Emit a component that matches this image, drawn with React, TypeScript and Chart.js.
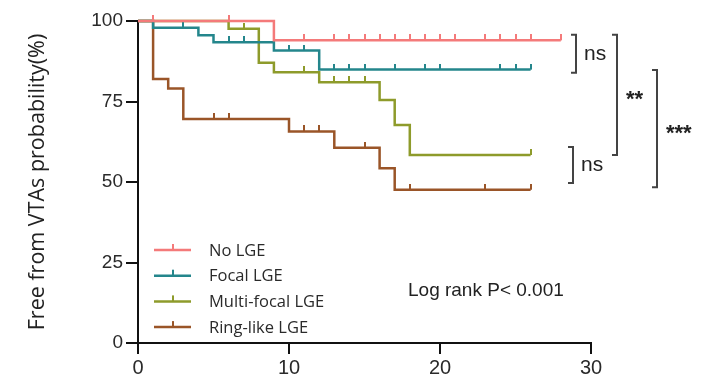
import React, { useEffect, useRef } from "react";
import { Chart, registerables } from "chart.js";

Chart.register(...registerables);

const seriesLabels = ["No LGE", "Focal LGE", "Multi-focal LGE", "Ring-like LGE"];
const seriesColors = ["#f47a7a", "#24868c", "#8e9b2b", "#9a5528"];

// Kaplan-Meier steps: time of each drop and survival (%) after it; censor marks
const noLgeEventTimes = [9];
const noLgeEventValues = [94.0];
const noLgeCensorTimes = [1, 6, 11, 13, 14, 15, 16, 17, 18, 19, 20, 21, 23, 24, 25, 26, 28];

const focalEventTimes = [1, 4, 5, 9, 12];
const focalEventValues = [97.9, 95.6, 93.4, 90.8, 84.9];
const focalCensorTimes = [3, 6, 7, 10, 11, 13, 14, 15, 17, 19, 20, 24, 25, 26];

const multiEventTimes = [6, 8, 9, 12, 16, 17, 18];
const multiEventValues = [97.6, 87.0, 84.1, 81.0, 75.5, 67.7, 58.4];
const multiCensorTimes = [7, 11, 13, 14, 15, 26];

const ringEventTimes = [1, 2, 3, 10, 13, 16, 17];
const ringEventValues = [82.0, 79.0, 69.6, 65.7, 60.6, 54.3, 47.6];
const ringCensorTimes = [5, 6, 11, 12, 15, 18, 23, 26];

const xTicks = [0, 10, 20, 30];
const yTicks = [0, 25, 50, 75, 100];

const yTitle = "Free from VTAs probability(%)";
const logRankText = "Log rank P< 0.001";

// significance brackets: span in y values and label
const bracketFrom = [95.7, 95.7, 84.8, 60.9];
const bracketTo = [83.9, 58.4, 48.4, 49.7];
const bracketLabels = ["ns", "**", "***", "ns"];
const bracketOffsets = [-15, 26, 66, -18];

type Pt = { x: number; y: number; c: boolean };

function kmPoints(evT: number[], evV: number[], cT: number[]): Pt[] {
  const items = [
    ...evT.map((t, i) => ({ x: t, v: evV[i], e: true })),
    ...cT.map((t) => ({ x: t, v: 0, e: false })),
  ].sort((a, b) => a.x - b.x || (a.e ? -1 : 1));
  const pts: Pt[] = [{ x: 0, y: 100, c: false }];
  let cur = 100;
  for (const it of items) {
    if (it.e) cur = it.v;
    pts.push({ x: it.x, y: cur, c: !it.e });
  }
  return pts;
}

function tickImage(color: string): HTMLCanvasElement {
  const c = document.createElement("canvas");
  c.width = 2;
  c.height = 12;
  const g = c.getContext("2d")!;
  g.fillStyle = color;
  g.fillRect(0, 0, 2, 6);
  return c;
}

const SANS = "'Liberation Sans', Arial, sans-serif";
const OPEN = "'Open Sans', 'Liberation Sans', sans-serif";

const annotPlugin = {
  id: "annot",
  afterDraw(chart: any) {
    const { ctx, chartArea, scales } = chart;
    const ys = scales.y;
    ctx.save();
    // legend
    const lx = chartArea.left + 16;
    const firstY = chartArea.bottom - 93;
    chart.data.datasets.forEach((ds: any, i: number) => {
      const y = firstY + i * 25.7;
      ctx.strokeStyle = ds.borderColor;
      ctx.lineWidth = 2.5;
      ctx.beginPath();
      ctx.moveTo(lx, y);
      ctx.lineTo(lx + 37, y);
      ctx.stroke();
      ctx.fillStyle = ds.borderColor;
      ctx.fillRect(lx + 18, y - 6, 2, 6);
      ctx.fillStyle = "#2a2a2a";
      ctx.font = `16.5px ${OPEN}`;
      ctx.textAlign = "left";
      ctx.textBaseline = "middle";
      ctx.fillText(ds.label, lx + 55, y + 1);
    });
    // log rank
    ctx.fillStyle = "#222";
    ctx.font = `19px ${SANS}`;
    ctx.textAlign = "left";
    ctx.textBaseline = "middle";
    ctx.fillText(logRankText, chartArea.left + 270, chartArea.bottom - 52);
    // brackets
    ctx.strokeStyle = "#444";
    ctx.lineWidth = 2;
    bracketLabels.forEach((lab, i) => {
      const x = chartArea.right + bracketOffsets[i];
      const y1 = ys.getPixelForValue(bracketFrom[i]);
      const y2 = ys.getPixelForValue(bracketTo[i]);
      ctx.beginPath();
      ctx.moveTo(x - 5, y1);
      ctx.lineTo(x, y1);
      ctx.lineTo(x, y2);
      ctx.lineTo(x - 5, y2);
      ctx.stroke();
      const my = (y1 + y2) / 2;
      ctx.fillStyle = "#222";
      ctx.textAlign = "left";
      if (lab === "ns") {
        ctx.font = `21px ${SANS}`;
        ctx.textBaseline = "middle";
        ctx.fillText(lab, x + 8, my);
      } else {
        ctx.font = `bold 22px ${SANS}`;
        ctx.textBaseline = "alphabetic";
        ctx.fillText(lab, x + 9, my + 11);
      }
    });
    ctx.restore();
  },
};

export default function App() {
  const ref = useRef<HTMLCanvasElement>(null);
  useEffect(() => {
    const series = [
      kmPoints(noLgeEventTimes, noLgeEventValues, noLgeCensorTimes),
      kmPoints(focalEventTimes, focalEventValues, focalCensorTimes),
      kmPoints(multiEventTimes, multiEventValues, multiCensorTimes),
      kmPoints(ringEventTimes, ringEventValues, ringCensorTimes),
    ];
    const datasets = series.map((data, i) => {
      const img = tickImage(seriesColors[i]);
      return {
        label: seriesLabels[i],
        data,
        borderColor: seriesColors[i],
        backgroundColor: seriesColors[i],
        borderWidth: 2.5,
        stepped: true,
        fill: false,
        clip: false,
        pointStyle: img,
        pointRadius: (c: any) => (c.raw && c.raw.c ? 3 : 0),
        pointHoverRadius: 0,
      };
    });
    const chart = new Chart(ref.current!, {
      type: "line",
      data: { datasets: datasets as any },
      options: {
        animation: false,
        responsive: false,
        events: [],
        layout: { padding: { left: 20, right: 113, top: 21, bottom: 0 } },
        plugins: { legend: { display: false }, tooltip: { enabled: false } },
        scales: {
          x: {
            type: "linear",
            min: 0,
            max: 30,
            afterBuildTicks: (s: any) => {
              s.ticks = xTicks.map((v) => ({ value: v }));
            },
            afterFit: (s: any) => {
              s.height = 39;
            },
            grid: { display: true, drawOnChartArea: false, drawTicks: true, tickLength: 11, color: "#111", tickColor: "#111", lineWidth: 2 },
            border: { display: true, color: "#111", width: 2 },
            ticks: { font: { size: 20, family: SANS }, color: "#2a2a2a", padding: 2, maxRotation: 0 },
          },
          y: {
            type: "linear",
            min: 0,
            max: 100,
            afterBuildTicks: (s: any) => {
              s.ticks = yTicks.map((v) => ({ value: v }));
            },
            afterFit: (s: any) => {
              s.width = 118;
            },
            grid: { display: true, drawOnChartArea: false, drawTicks: true, tickLength: 12, color: "#111", tickColor: "#111", lineWidth: 2 },
            border: { display: true, color: "#111", width: 2 },
            ticks: { font: { size: 19, family: SANS }, color: "#2a2a2a", padding: 3 },
            title: { display: true, text: yTitle, font: { size: 21.5, family: OPEN }, color: "#222", padding: { top: 5, bottom: 0 } },
          },
        },
      } as any,
      plugins: [annotPlugin],
    });
    return () => chart.destroy();
  }, []);
  return (
    <div style={{ position: "fixed", left: 0, top: 0, width: 704, height: 382, background: "#fff" }}>
      <canvas ref={ref} width={704} height={382} style={{ display: "block" }} />
    </div>
  );
}
